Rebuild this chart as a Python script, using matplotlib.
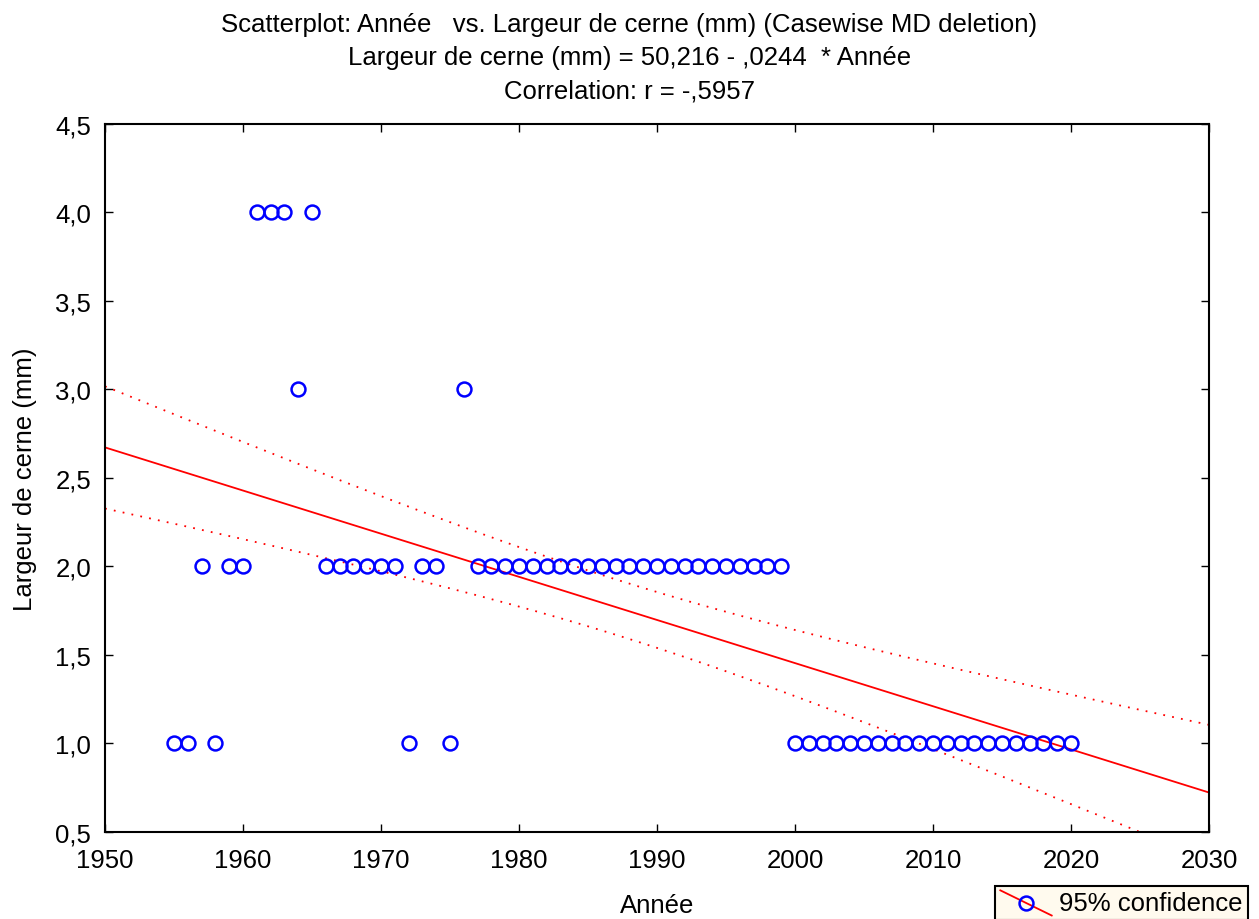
import numpy as np
import matplotlib.pyplot as plt
from matplotlib.lines import Line2D
from matplotlib.legend_handler import HandlerBase
from matplotlib.ticker import FuncFormatter, MultipleLocator

plt.rcParams['font.family'] = ['Liberation Sans', 'DejaVu Sans']

# ring width (mm) per year, grouped by value
years_1 = [1955, 1956, 1958, 1972, 1975] + list(range(2000, 2021))
years_2 = [1957, 1959, 1960, 1966, 1967, 1968, 1969, 1970, 1971, 1973, 1974] + list(range(1977, 2000))
years_3 = [1964, 1976]
years_4 = [1961, 1962, 1963, 1965]

annee = np.array(years_1 + years_2 + years_3 + years_4, dtype=float)
largeur = np.array([1.0] * len(years_1) + [2.0] * len(years_2)
                   + [3.0] * len(years_3) + [4.0] * len(years_4))

# least squares fit and 95% confidence band of the mean
n = len(annee)
slope, intercept = np.polyfit(annee, largeur, 1)
resid = largeur - (intercept + slope * annee)
s = np.sqrt(np.sum(resid ** 2) / (n - 2))
xbar = annee.mean()
sxx = np.sum((annee - xbar) ** 2)
t_crit = 1.998

xs = np.linspace(1950, 2030, 400)
fit = intercept + slope * xs
half = t_crit * s * np.sqrt(1.0 / n + (xs - xbar) ** 2 / sxx)

fs = 18.5

fig = plt.figure(figsize=(12.59, 9.2), dpi=100)
ax = fig.add_axes([0.0834, 0.0949, 0.8769, 0.7693])

ax.plot(xs, fit, color='red', lw=1.3)
ax.plot(xs, fit + half, color='red', lw=1.3, ls=(0, (1, 4)))
ax.plot(xs, fit - half, color='red', lw=1.3, ls=(0, (1, 4)))
ax.plot(annee, largeur, 'o', ms=10, mfc='none', mec='blue', mew=1.8, zorder=3)

ax.set_xlim(1950, 2030)
ax.set_ylim(0.5, 4.5)
ax.xaxis.set_major_locator(MultipleLocator(10))
ax.yaxis.set_major_locator(MultipleLocator(0.5))
ax.yaxis.set_major_formatter(FuncFormatter(lambda v, p: f'{v:.1f}'.replace('.', ',')))
ax.tick_params(direction='in', length=6, width=1, labelsize=fs, top=True, right=True)
ax.tick_params(axis='x', pad=12)
ax.tick_params(axis='y', pad=10)
for sp in ax.spines.values():
    sp.set_linewidth(1.5)

ax.set_xlabel('Année', fontsize=fs, labelpad=15)
ax.set_ylabel('Largeur de cerne (mm)', fontsize=fs, labelpad=13)

fig.text(0.5, 0.973, 'Scatterplot: Année   vs. Largeur de cerne (mm) (Casewise MD deletion)',
         ha='center', va='center', fontsize=fs)
fig.text(0.5, 0.937, 'Largeur de cerne (mm) = 50,216 - ,0244  * Année',
         ha='center', va='center', fontsize=fs)
fig.text(0.5, 0.900, 'Correlation: r = -,5957', ha='center', va='center', fontsize=fs)


class FitHandler(HandlerBase):
    # diagonal fit line with the marker on top of it
    def create_artists(self, legend, orig, x0, y0, w, h, fontsize, trans):
        ln = Line2D([x0, x0 + w], [y0 + h * 1.1, y0 - h * 0.3], color='red', lw=1.3, transform=trans)
        mk = Line2D([x0 + w / 2], [y0 + h * 0.4], marker='o', ms=10, mfc='none',
                    mec='blue', mew=1.8, transform=trans)
        return [ln, mk]


leg = fig.legend([Line2D([], [])], ['95% confidence'], handler_map={Line2D: FitHandler()},
                 loc='upper right', bbox_to_anchor=(0.9913, 0.0359), fontsize=fs,
                 frameon=True, fancybox=False, handlelength=2.0, handletextpad=0.3,
                 borderpad=0.2, borderaxespad=0)
leg.get_frame().set_facecolor('#fffaee')
leg.get_frame().set_edgecolor('black')
leg.get_frame().set_linewidth(1.5)
leg.get_frame().set_alpha(1)

fig.savefig('out.png', dpi=100)
